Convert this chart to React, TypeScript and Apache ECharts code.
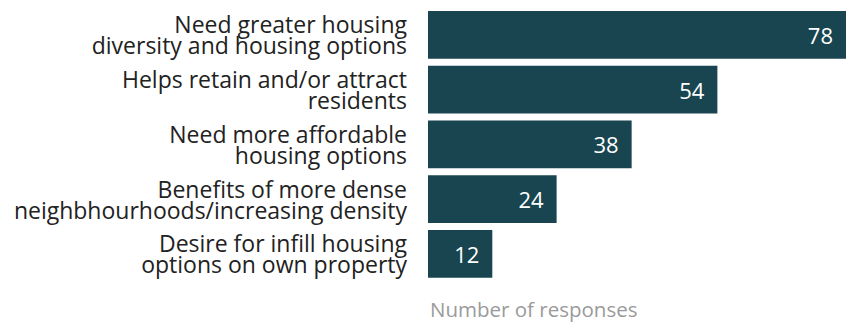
import React, { useEffect, useRef } from "react";
import * as echarts from "echarts";

const categories = [
  "Need greater housing\ndiversity and housing options",
  "Helps retain and/or attract\nresidents",
  "Need more affordable\nhousing options",
  "Benefits of more dense\nneighbhourhoods/increasing density",
  "Desire for infill housing\noptions on own property",
];
const values = [78, 54, 38, 24, 12];
const axisTitle = "Number of responses";

export default function App() {
  const ref = useRef<HTMLDivElement>(null);
  useEffect(() => {
    const chart = echarts.init(ref.current!, null, { renderer: "svg" });
    chart.setOption({
      animation: false,
      grid: { left: 428, right: 6, top: 7.5, bottom: 43.8, containLabel: false },
      xAxis: {
        type: "value",
        min: 0,
        max: 78,
        show: true,
        axisLine: { show: false },
        axisTick: { show: false },
        axisLabel: { show: false },
        splitLine: { show: false },
        name: axisTitle,
        nameLocation: "start",
        nameGap: 0,
        nameTextStyle: {
          color: "#9a9a9a",
          fontSize: 20.5,
          fontFamily: "Open Sans",
          align: "left",
          verticalAlign: "top",
          padding: [17, 0, 0, 2],
        },
      },
      yAxis: {
        type: "category",
        inverse: true,
        data: categories,
        axisLine: { show: false },
        axisTick: { show: false },
        axisLabel: {
          color: "#222",
          fontSize: 23,
          fontFamily: "Open Sans",
          lineHeight: 21,
          margin: 21,
          align: "right",
        },
      },
      series: [
        {
          type: "bar",
          data: values,
          barCategoryGap: "12.8%",
          itemStyle: { color: "#18454f" },
          label: {
            show: true,
            position: "insideRight",
            distance: 13,
            color: "#ffffff",
            fontSize: 22,
            fontFamily: "Open Sans",
          },
        },
      ],
    });
    return () => chart.dispose();
  }, []);
  return <div ref={ref} style={{ width: 852, height: 325, position: "absolute", left: 0, top: 0 }} />;
}
